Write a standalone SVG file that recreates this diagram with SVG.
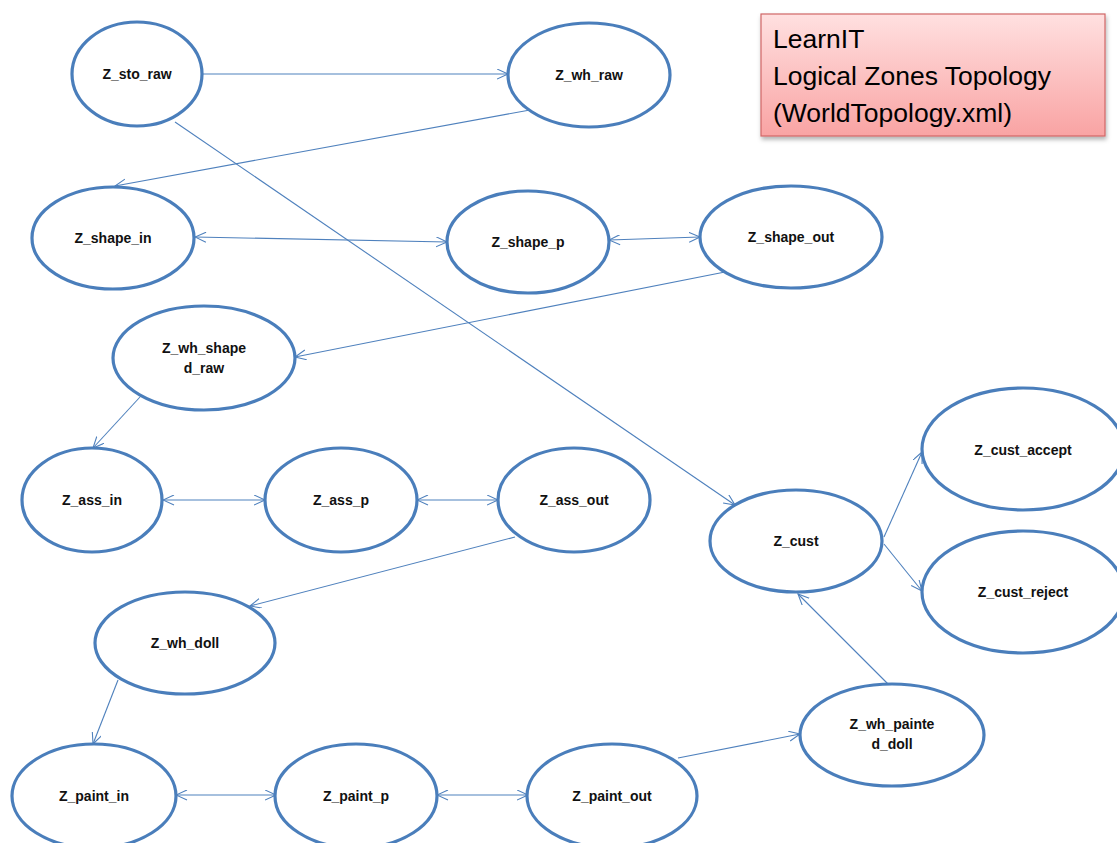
<svg xmlns="http://www.w3.org/2000/svg" width="1117" height="843" viewBox="0 0 1117 843">
<style>
.n{fill:#fff;stroke:#4a7ebb;stroke-width:3.2}
.t{font-family:"Liberation Sans",Arial,sans-serif;font-weight:bold;font-size:14px;fill:#111;text-anchor:middle}
.c{stroke:#4f81bd;stroke-width:1.1;fill:none}
.a{marker-end:url(#ah)}
.b{marker-start:url(#as);marker-end:url(#ah)}
.tt{font-family:"Liberation Sans",Arial,sans-serif;font-size:26.5px;fill:#000}
</style>
<defs>
<marker id="ah" markerUnits="userSpaceOnUse" markerWidth="14" markerHeight="12" refX="11" refY="5" orient="auto">
<path d="M0,0 L11,5 L0,10" fill="none" stroke="#4f81bd" stroke-width="1.1"/>
</marker>
<marker id="as" markerUnits="userSpaceOnUse" markerWidth="14" markerHeight="12" refX="0" refY="5" orient="auto">
<path d="M11,0 L0,5 L11,10" fill="none" stroke="#4f81bd" stroke-width="1.1"/>
</marker>
<linearGradient id="g" x1="0" y1="0" x2="0" y2="1">
<stop offset="0" stop-color="#ffe0e0"/>
<stop offset="1" stop-color="#f9a3a3"/>
</linearGradient>
<filter id="sh" x="-10%" y="-10%" width="120%" height="130%">
<feDropShadow dx="1" dy="3" stdDeviation="2" flood-color="#000" flood-opacity="0.3"/>
</filter>
</defs>
<rect width="1117" height="843" fill="#fff"/>
<g id="connectors">
<line class="c a" x1="202" y1="74" x2="508" y2="74"/>
<line class="c a" x1="530" y1="110" x2="115" y2="186"/>
<line class="c a" x1="175" y1="122" x2="735" y2="505"/>
<line class="c b" x1="195" y1="237" x2="447" y2="242"/>
<line class="c b" x1="609" y1="240" x2="700" y2="237"/>
<line class="c a" x1="725" y1="272" x2="295" y2="357"/>
<line class="c a" x1="140" y1="397" x2="93" y2="448"/>
<line class="c b" x1="163" y1="500" x2="265" y2="500"/>
<line class="c b" x1="417" y1="500" x2="498" y2="500"/>
<line class="c a" x1="515" y1="537" x2="250" y2="606"/>
<line class="c a" x1="118" y1="680" x2="93" y2="744"/>
<line class="c b" x1="176" y1="795" x2="276" y2="795"/>
<line class="c b" x1="437" y1="795" x2="528" y2="795"/>
<line class="c a" x1="678" y1="758" x2="800" y2="734"/>
<line class="c a" x1="888" y1="684" x2="798" y2="594"/>
<line class="c a" x1="884" y1="537" x2="922" y2="452"/>
<line class="c a" x1="884" y1="544" x2="922" y2="591"/>
</g>
<g id="title">
<rect x="761" y="14" width="344" height="122" fill="url(#g)" stroke="#d06666" stroke-width="1.2" filter="url(#sh)"/>
<text class="tt" x="773" y="48">LearnIT</text>
<text class="tt" x="773" y="85">Logical Zones Topology</text>
<text class="tt" x="773" y="122">(WorldTopology.xml)</text>
</g>
<g id="Z_sto_raw"><ellipse class="n" cx="137" cy="74" rx="65" ry="52"/><text class="t" x="137" y="79">Z_sto_raw</text></g>
<g id="Z_wh_raw"><ellipse class="n" cx="589" cy="75" rx="81" ry="52"/><text class="t" x="589" y="80">Z_wh_raw</text></g>
<g id="Z_shape_in"><ellipse class="n" cx="113" cy="238" rx="81" ry="51"/><text class="t" x="113" y="243">Z_shape_in</text></g>
<g id="Z_shape_p"><ellipse class="n" cx="528" cy="242" rx="81" ry="51"/><text class="t" x="528" y="247">Z_shape_p</text></g>
<g id="Z_shape_out"><ellipse class="n" cx="791" cy="237" rx="91" ry="51"/><text class="t" x="791" y="242">Z_shape_out</text></g>
<g id="Z_wh_shaped_raw"><ellipse class="n" cx="204" cy="358" rx="91" ry="52"/><text class="t" x="204" y="353">Z_wh_shape</text><text class="t" x="204" y="373">d_raw</text></g>
<g id="Z_ass_in"><ellipse class="n" cx="92" cy="500" rx="70" ry="52"/><text class="t" x="92" y="505">Z_ass_in</text></g>
<g id="Z_ass_p"><ellipse class="n" cx="341" cy="500" rx="76" ry="52"/><text class="t" x="341" y="505">Z_ass_p</text></g>
<g id="Z_ass_out"><ellipse class="n" cx="574" cy="500" rx="76" ry="52"/><text class="t" x="574" y="505">Z_ass_out</text></g>
<g id="Z_cust"><ellipse class="n" cx="796" cy="541" rx="86" ry="51"/><text class="t" x="796" y="546">Z_cust</text></g>
<g id="Z_cust_accept"><ellipse class="n" cx="1023" cy="449" rx="101" ry="61"/><text class="t" x="1023" y="455">Z_cust_accept</text></g>
<g id="Z_cust_reject"><ellipse class="n" cx="1023" cy="592" rx="101" ry="61"/><text class="t" x="1023" y="597">Z_cust_reject</text></g>
<g id="Z_wh_doll"><ellipse class="n" cx="185" cy="643" rx="90" ry="51"/><text class="t" x="185" y="648">Z_wh_doll</text></g>
<g id="Z_paint_in"><ellipse class="n" cx="94" cy="796" rx="82" ry="52"/><text class="t" x="94" y="801">Z_paint_in</text></g>
<g id="Z_paint_p"><ellipse class="n" cx="356" cy="796" rx="81" ry="52"/><text class="t" x="356" y="801">Z_paint_p</text></g>
<g id="Z_paint_out"><ellipse class="n" cx="612" cy="796" rx="85" ry="52"/><text class="t" x="612" y="801">Z_paint_out</text></g>
<g id="Z_wh_painted_doll"><ellipse class="n" cx="892" cy="735" rx="92" ry="51"/><text class="t" x="892" y="729">Z_wh_painte</text><text class="t" x="892" y="749">d_doll</text></g>
</svg>
